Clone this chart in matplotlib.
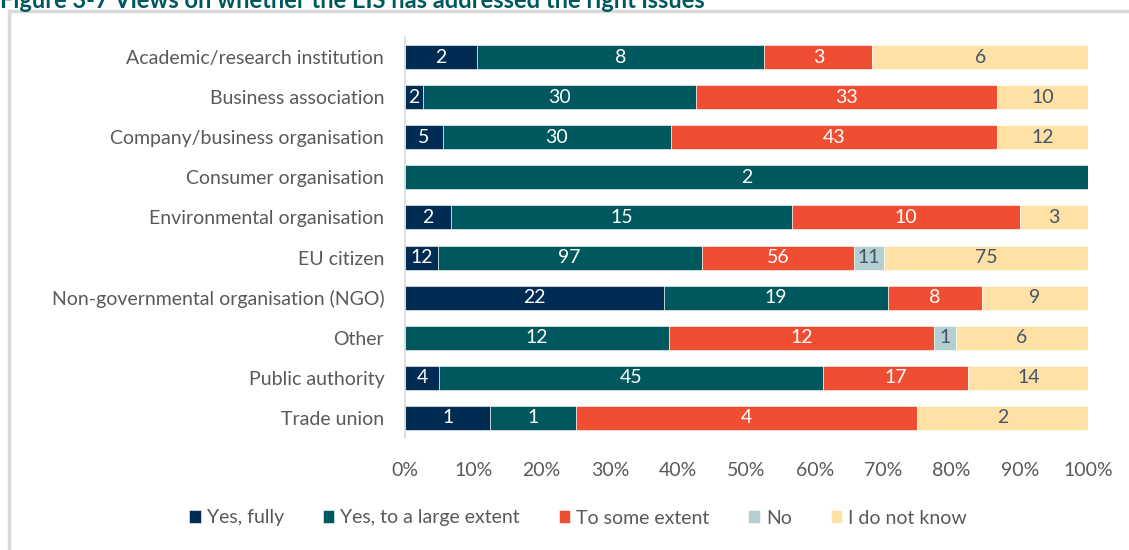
import matplotlib.pyplot as plt
import matplotlib.patches as mpatches
import numpy as np

plt.rcParams['font.family'] = ['Lato', 'DejaVu Sans']

groups = ["Academic/research institution", "Business association",
          "Company/business organisation", "Consumer organisation",
          "Environmental organisation", "EU citizen",
          "Non-governmental organisation (NGO)", "Other",
          "Public authority", "Trade union"]
answers = ["Yes, fully", "Yes, to a large extent", "To some extent", "No", "I do not know"]
yes_fully = [2, 2, 5, 0, 2, 12, 22, 0, 4, 1]
yes_large = [8, 30, 30, 2, 15, 97, 19, 12, 45, 1]
some_extent = [3, 33, 43, 0, 10, 56, 8, 12, 17, 4]
no = [0, 0, 0, 0, 0, 11, 0, 1, 0, 0]
dont_know = [6, 10, 12, 0, 3, 75, 9, 6, 14, 2]

colors = ["#002B52", "#00585F", "#F04E33", "#B4CFCF", "#FFE1A5"]
label_colors = ["white", "white", "white", "#44546A", "#44546A"]

counts = np.array([yes_fully, yes_large, some_extent, no, dont_know], dtype=float)
shares = counts / counts.sum(axis=0)

fig = plt.figure(figsize=(11.29, 5.5), dpi=100)
# grey frame around the chart area
fig.patches.append(mpatches.Rectangle((9 / 1129, -0.1), 1.2, (550 - 11) / 550 + 0.1,
                                      transform=fig.transFigure, fill=False,
                                      edgecolor="#D9D9D9", linewidth=2.5))
fig.text(0.0, 1.0, "Figure 3-7 Views on whether the EIS has addressed the right issues",
         fontsize=17, fontweight="bold", color="#00585F", va="center", ha="left")

ax = fig.add_axes([405 / 1129, 1 - 438 / 550, 683 / 1129, 401 / 550])
y = np.arange(len(groups))
left = np.zeros(len(groups))
for i in range(len(answers)):
    ax.barh(y, shares[i], left=left, height=0.6, color=colors[i],
            edgecolor="white", linewidth=0.4, label=answers[i])
    for j in range(len(groups)):
        if counts[i, j] > 0:
            ax.text(left[j] + shares[i, j] / 2, y[j], f"{int(counts[i, j])}",
                    ha="center", va="center", fontsize=14, color=label_colors[i])
    left += shares[i]

ax.set_ylim(len(groups) - 0.5, -0.5)
ax.set_xlim(0, 1)
ax.set_yticks(y)
ax.set_yticklabels(groups, fontsize=14, color="#595959")
ax.set_xticks(np.linspace(0, 1, 11))
ax.set_xticklabels([f"{p}%" for p in range(0, 101, 10)], fontsize=14, color="#595959")
ax.tick_params(length=0, axis="y", pad=15)
ax.tick_params(length=0, axis="x", pad=17)
for s in ["top", "right", "bottom"]:
    ax.spines[s].set_visible(False)
ax.spines["left"].set_color("#D9D9D9")
ax.spines["left"].set_linewidth(1.2)

ax.legend(loc="center", bbox_to_anchor=(578 / 1129, 1 - 518 / 550), bbox_transform=fig.transFigure,
          ncol=5, frameon=False, fontsize=14, labelcolor="#595959",
          handlelength=0.6, handleheight=0.6, handletextpad=0.3, columnspacing=2.0)

fig.savefig("out.png", dpi=100)
